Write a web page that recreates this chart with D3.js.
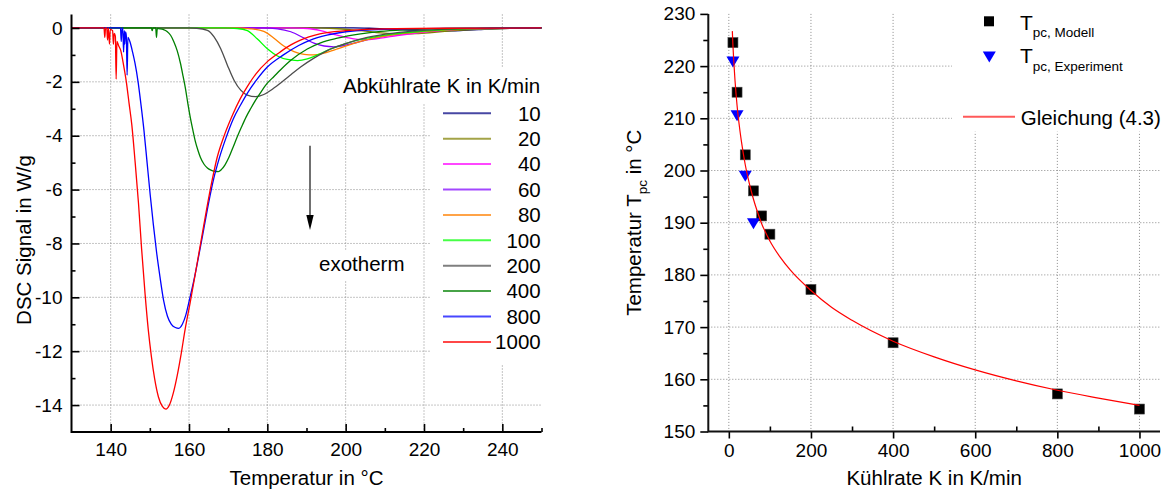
<!DOCTYPE html>
<html>
<head>
<meta charset="utf-8">
<script src="https://cdn.jsdelivr.net/npm/d3@7"></script>
<style>
  body { margin: 0; background: #fff; }
  svg text { font-family: "Liberation Sans", Arial, Helvetica, sans-serif; fill: #000; }
</style>
</head>
<body>
<svg id="chart" width="1167" height="493"></svg>
<script>
// ---------------- data: DSC cooling curves (temperature °C, signal W/g) ----------------
const rates = [10, 20, 40, 60, 80, 100, 200, 400, 800, 1000];
const rateColors = ["#000080", "#808000", "#ff00ff", "#8000ff", "#ff8000",
                    "#00ff00", "#4d4d4d", "#008000", "#0000ff", "#ff0000"];

const dsc10 = [[130,0],[202,0],[206,-0.01],[210,-0.03],[214,-0.06],[218,-0.09],[221,-0.11],[224,-0.12],
  [227,-0.11],[230,-0.09],[234,-0.06],[238,-0.03],[243,-0.01],[250,0]];
const dsc20 = [[130,0],[193,0],[197,-0.02],[201,-0.06],[205,-0.12],[209,-0.18],[212,-0.21],[215,-0.22],
  [218,-0.21],[222,-0.17],[226,-0.12],[231,-0.07],[236,-0.035],[242,-0.012],[250,0]];
const dsc40 = [[130,0],[186,0],[190.2,-0.02],[193.6,-0.1],[197,-0.24],[200.4,-0.36],[203,-0.42],[205.5,-0.43],
  [208.9,-0.38],[213.2,-0.28],[219.1,-0.17],[225,-0.09],[231,-0.045],[238,-0.015],[245,-0.003],[250,0]];
const dsc60 = [[130,0],[179,0],[182.6,-0.03],[186,-0.14],[189.4,-0.38],[191.9,-0.56],[194.5,-0.67],[197,-0.7],
  [199.6,-0.65],[203,-0.53],[207.2,-0.38],[213.2,-0.23],[219.1,-0.13],[226,-0.06],[233,-0.025],[241,-0.008],[250,0]];
const dsc80 = [[130,0],[172,0],[175.7,-0.03],[179.1,-0.13],[181.7,-0.38],[184.3,-0.68],[186.8,-0.88],[189.4,-0.98],
  [191.9,-1.0],[194.5,-0.93],[197.9,-0.78],[202.1,-0.57],[207.2,-0.38],[213.2,-0.23],[219.1,-0.14],[226,-0.07],
  [233,-0.03],[241,-0.01],[250,0]];
const dsc100 = [[130,0],[169,0],[172.3,-0.02],[174.9,-0.1],[177.4,-0.4],[180,-0.77],[182.6,-1.04],[185.1,-1.17],
  [187.7,-1.21],[190.2,-1.15],[192.8,-1.0],[196.2,-0.78],[200.4,-0.56],[205.5,-0.38],[212.3,-0.22],[219.1,-0.13],
  [226,-0.065],[233,-0.028],[241,-0.009],[250,0]];
const dsc200 = [[130,0],[160,0],[162,-0.01],[164.7,-0.09],[166.4,-0.33],[168.1,-0.77],[169.8,-1.38],[171.5,-1.94],
  [173.2,-2.31],[174.9,-2.49],[177,-2.55],[179.1,-2.47],[180.9,-2.31],[183.4,-2.04],[186,-1.74],[188.5,-1.45],
  [191.9,-1.12],[195.3,-0.84],[200.4,-0.56],[205.5,-0.35],[212.3,-0.19],[219.1,-0.1],[227,-0.045],[236,-0.015],[250,0]];
const dsc400 = [[130,0],[150.4,0],[150.6,-0.1],[150.8,0],[151.5,0],[151.7,-0.35],[151.9,-0.02],[152.5,-0.03],
  [153.5,-0.06],[154.4,-0.13],[155.3,-0.27],[156.1,-0.5],[157.0,-0.85],[157.8,-1.3],[158.5,-1.8],[159.1,-2.25],
  [159.7,-2.8],[160.3,-3.3],[161.0,-3.8],[161.6,-4.2],[162.3,-4.55],[162.9,-4.8],[163.8,-5.05],[164.7,-5.2],
  [165.6,-5.28],[166.5,-5.32],[167.5,-5.33],[168.3,-5.25],[169.2,-5.08],[170.2,-4.8],[171.2,-4.45],[172.3,-4.05],
  [173.4,-3.68],[174.6,-3.3],[175.8,-2.98],[177,-2.68],[178.5,-2.35],[180,-2.05],[181.7,-1.8],[183.4,-1.55],
  [186,-1.2],[190.2,-0.78],[193.6,-0.55],[197.9,-0.38],[203.8,-0.22],[208.9,-0.13],[215,-0.07],[222,-0.03],
  [232,-0.01],[250,0]];
const dsc800 = [[130,0],[142.5,0],[142.7,-0.5],[142.9,0],[143.1,0],[143.3,-0.9],[143.5,-0.1],[143.6,-0.6],
  [143.8,-0.15],[144.0,-0.3],[144.2,-1.75],[144.4,-0.35],[145.0,-0.55],[145.6,-0.9],[146.2,-1.3],[147.0,-2.0],
  [147.7,-2.8],[148.5,-3.8],[149.3,-5.0],[150.1,-6.2],[150.9,-7.3],[151.7,-8.3],[152.6,-9.25],[153.5,-10.1],
  [154.5,-10.7],[155.5,-11.0],[156.5,-11.12],[157.4,-11.15],[158.3,-11.0],[159.2,-10.65],[160.1,-10.1],
  [161.2,-9.4],[162.3,-8.6],[163.6,-7.6],[165.0,-6.5],[166.3,-5.6],[167.7,-4.85],[169.4,-4.1],[171.3,-3.38],
  [173.2,-2.85],[175.0,-2.4],[177.4,-1.9],[180.0,-1.45],[184.1,-1.0],[188,-0.65],[191,-0.45],[195.2,-0.27],
  [200,-0.14],[210,-0.05],[225,-0.015],[250,0]];
const dsc1000 = [[130,0],[138.3,0],[138.5,-0.35],[138.7,0],[139.0,0],[139.2,-0.45],[139.4,0],[139.7,-0.6],
  [139.9,-0.05],[140.5,-0.1],[140.7,-0.6],[140.9,-0.2],[141.2,-0.3],[141.4,-1.9],[141.6,-0.5],[142.0,-0.65],
  [142.6,-0.85],[143.2,-1.3],[144.0,-2.0],[144.7,-2.8],[145.4,-3.6],[146.2,-4.9],[147.1,-6.5],[147.9,-8.2],
  [148.8,-9.9],[149.6,-11.2],[150.4,-12.2],[151.2,-13.0],[152.2,-13.7],[153.2,-14.05],[154.1,-14.15],
  [155.0,-14.0],[156.0,-13.55],[157.0,-12.9],[158.0,-12.1],[159.0,-11.2],[160.3,-10.2],[162.0,-8.8],
  [163.8,-7.3],[165.5,-5.95],[167.2,-4.8],[169.1,-3.95],[171.2,-3.2],[173.0,-2.65],[175.0,-2.15],[177.0,-1.72],
  [180.0,-1.25],[183.2,-0.9],[186,-0.63],[188.3,-0.46],[193.4,-0.22],[200,-0.1],[210,-0.035],[225,-0.01],[250,0]];
const dscCurves = [dsc10, dsc20, dsc40, dsc60, dsc80, dsc100, dsc200, dsc400, dsc800, dsc1000];

// ---------------- data: crystallisation peak temperature vs. cooling rate ----------------
const modelRates = [10, 20, 40, 60, 80, 100, 200, 400, 800, 1000];
const tpcModel = [224.5, 215.0, 203.0, 196.1, 191.3, 187.8, 177.2, 167.0, 157.2, 154.3];
const expRates = [10, 20, 40, 60];
const tpcExperiment = [220.8, 210.5, 198.9, 189.8];
const eqRates = [8.5, 10, 12, 15, 20, 25, 30, 40, 50, 60, 70, 80, 100, 125, 150, 200, 250, 300,
  400, 500, 600, 700, 800, 900, 1000];
const eqTemps = [226.7, 224.0, 221.0, 217.3, 212.5, 208.9, 205.9, 201.1, 197.5, 194.5, 192.0, 189.8,
  186.5, 183.4, 180.9, 177.0, 173.8, 171.3, 167.3, 164.3, 161.8, 159.7, 157.9, 156.4, 155.0];

// tick values
const tempTicks = [140, 160, 180, 200, 220, 240];
const tempMinor = [150, 170, 190, 210, 230, 250];
const dscTicks = [0, -2, -4, -6, -8, -10, -12, -14];
const dscMinor = [-1, -3, -5, -7, -9, -11, -13];
const rateTicks = [0, 200, 400, 600, 800, 1000];
const rateMinor = [100, 300, 500, 700, 900];
const tpcTicks = [150, 160, 170, 180, 190, 200, 210, 220, 230];
const tpcMinor = [155, 165, 175, 185, 195, 205, 215, 225];

const svg = d3.select("#chart");
const FS = 20.5;
const gridStyle = sel => sel.attr("stroke", "#8a8a8a").attr("stroke-width", 1)
  .attr("stroke-dasharray", "1,2").attr("fill", "none");
const fmt = d => String(d);

// ================= left panel: DSC signal =================
const xL = d3.scaleLinear().domain([130, 250]).range([71.5, 541.5]);
const yL = d3.scaleLinear().domain([-15, 0.5]).range([432, 14.5]);

const left = svg.append("g");
left.append("g").selectAll("line").data(tempTicks).join("line")
  .attr("x1", d => xL(d)).attr("x2", d => xL(d)).attr("y1", yL(0.5)).attr("y2", yL(-15)).call(gridStyle);
left.append("g").selectAll("line").data(dscTicks.filter(d => d !== 0)).join("line")
  .attr("x1", xL(130)).attr("x2", xL(250)).attr("y1", d => yL(d)).attr("y2", d => yL(d)).call(gridStyle);

// white panels behind legend and annotation
left.append("rect").attr("x", 333).attr("y", 67).attr("width", 212).attr("height", 36).attr("fill", "#fff");
left.append("rect").attr("x", 430).attr("y", 103).attr("width", 115).attr("height", 262).attr("fill", "#fff");
left.append("rect").attr("x", 315).attr("y", 250).attr("width", 92).attr("height", 30).attr("fill", "#fff");

const lineL = d3.line().x(d => xL(d[0])).y(d => yL(d[1])).curve(d3.curveMonotoneX);
left.append("g").selectAll("path").data(dscCurves).join("path")
  .attr("d", lineL).attr("fill", "none")
  .attr("stroke", (d, i) => rateColors[i]).attr("stroke-width", 1.3);

// axes
function styleAxis(g) {
  g.select(".domain").remove();
  g.selectAll(".tick line").attr("stroke", "#000").attr("stroke-width", 1.6);
  g.selectAll(".tick text").attr("font-size", 19).attr("fill", "#000")
    .attr("font-family", "Liberation Sans, Arial, sans-serif");
}
left.append("g").attr("transform", `translate(${xL(130)},0)`)
  .call(d3.axisLeft(yL).tickValues(dscMinor).tickSize(-4).tickFormat("")).call(styleAxis);
left.append("g").attr("transform", `translate(${xL(130)},0)`)
  .call(d3.axisLeft(yL).tickValues(dscTicks).tickSize(-8).tickPadding(9).tickFormat(fmt)).call(styleAxis);
left.append("g").attr("transform", `translate(0,${yL(-15)})`)
  .call(d3.axisBottom(xL).tickValues(tempMinor).tickSize(-4).tickFormat("")).call(styleAxis);
left.append("g").attr("transform", `translate(0,${yL(-15)})`)
  .call(d3.axisBottom(xL).tickValues(tempTicks).tickSize(-8).tickPadding(11).tickFormat(fmt)).call(styleAxis);
left.append("path")
  .attr("d", `M${xL(130)},${yL(0.5)}V${yL(-15)}H${xL(250)}`)
  .attr("fill", "none").attr("stroke", "#000").attr("stroke-width", 2);

left.append("text").attr("x", (xL(130) + xL(250)) / 2).attr("y", 485)
  .attr("text-anchor", "middle").attr("font-size", FS).text("Temperatur in °C");
left.append("text").attr("transform", "translate(31,240) rotate(-90)")
  .attr("text-anchor", "middle").attr("font-size", FS).text("DSC Signal in W/g");

// legend
left.append("text").attr("x", 343).attr("y", 92.5).attr("font-size", FS).text("Abkühlrate K in K/min");
const legL = left.append("g").selectAll("g").data(rates).join("g")
  .attr("transform", (d, i) => `translate(0,${113.3 + i * 25.4})`);
legL.append("line").attr("x1", 443).attr("x2", 491)
  .attr("stroke", (d, i) => rateColors[i]).attr("stroke-width", 2).attr("stroke-opacity", 0.72);
legL.append("text").attr("x", 540.7).attr("y", 7.3).attr("text-anchor", "end")
  .attr("font-size", FS).text(d => d);

// exotherm arrow
left.append("line").attr("x1", 310).attr("x2", 310).attr("y1", 145.7).attr("y2", 218)
  .attr("stroke", "#707070").attr("stroke-width", 2);
left.append("path").attr("d", "M306.3,215L313.7,215L310,230Z").attr("fill", "#000");
left.append("text").attr("x", 319).attr("y", 270.7).attr("font-size", FS).text("exotherm");

// ================= right panel: peak temperature =================
const xR = d3.scaleLinear().domain([-50, 1050]).range([708.3, 1160]);
const yR = d3.scaleLinear().domain([150, 230]).range([431.5, 13.9]);

const right = svg.append("g");
right.append("g").selectAll("line").data(rateTicks).join("line")
  .attr("x1", d => xR(d)).attr("x2", d => xR(d)).attr("y1", yR(230)).attr("y2", yR(150)).call(gridStyle);
right.append("g").selectAll("line").data(tpcTicks.filter(d => d > 150 && d < 230)).join("line")
  .attr("x1", xR(-50)).attr("x2", xR(1050)).attr("y1", d => yR(d)).attr("y2", d => yR(d)).call(gridStyle);
right.append("rect").attr("x", 952).attr("y", 0).attr("width", 215).attr("height", 131.7).attr("fill", "#fff");

right.append("g").attr("transform", `translate(${xR(-50)},0)`)
  .call(d3.axisLeft(yR).tickValues(tpcMinor).tickSize(5).tickFormat("")).call(styleAxis);
right.append("g").attr("transform", `translate(${xR(-50)},0)`)
  .call(d3.axisLeft(yR).tickValues(tpcTicks).tickSize(8).tickPadding(5).tickFormat(fmt)).call(styleAxis);
right.append("g").attr("transform", `translate(0,${yR(150)})`)
  .call(d3.axisBottom(xR).tickValues(rateMinor).tickSize(-5).tickFormat("")).call(styleAxis);
right.append("g").attr("transform", `translate(0,${yR(150)})`)
  .call(d3.axisBottom(xR).tickValues(rateTicks).tickSize(7).tickPadding(5).tickFormat(fmt)).call(styleAxis);
right.append("path")
  .attr("d", `M${xR(-50)},${yR(230)}V${yR(150)}H${xR(1050)}`)
  .attr("fill", "none").attr("stroke", "#111").attr("stroke-width", 2);

// model squares
right.append("g").selectAll("rect").data(modelRates).join("rect")
  .attr("x", d => xR(d) - 5).attr("y", (d, i) => yR(tpcModel[i]) - 5)
  .attr("width", 10).attr("height", 10).attr("fill", "#000").attr("stroke", "#444").attr("stroke-width", 0.6);
// experiment triangles
const tri = "M-6.5,-5.5L6.5,-5.5L0,5.5Z";
right.append("g").selectAll("path").data(expRates).join("path")
  .attr("transform", (d, i) => `translate(${xR(d)},${yR(tpcExperiment[i])})`)
  .attr("d", tri).attr("fill", "#0000ff");
// fitted equation
const eqPts = eqRates.map((k, i) => [k, eqTemps[i]]);
right.append("path").datum(eqPts)
  .attr("d", d3.line().x(d => xR(d[0])).y(d => yR(d[1])).curve(d3.curveMonotoneX))
  .attr("fill", "none").attr("stroke", "#ff0000").attr("stroke-width", 1.2);

right.append("text").attr("x", (xR(-50) + xR(1050)) / 2).attr("y", 485)
  .attr("text-anchor", "middle").attr("font-size", FS).text("Kühlrate K in K/min");
const yTitle = right.append("text").attr("transform", `translate(641,${(yR(150) + yR(230)) / 2}) rotate(-90)`)
  .attr("text-anchor", "middle").attr("font-size", FS);
yTitle.append("tspan").text("Temperatur T");
yTitle.append("tspan").attr("font-size", 13.5).attr("dy", 6).text("pc");
yTitle.append("tspan").attr("dy", -6).text(" in °C");

// legend
right.append("rect").attr("x", 984).attr("y", 16.3).attr("width", 10).attr("height", 10).attr("fill", "#000");
const l1 = right.append("text").attr("x", 1020).attr("y", 30).attr("font-size", 21);
l1.append("tspan").text("T");
l1.append("tspan").attr("font-size", 13.5).attr("dy", 6.7).text("pc, Modell");
right.append("path").attr("transform", "translate(989.3,57)").attr("d", tri).attr("fill", "#0000ff");
const l2 = right.append("text").attr("x", 1020).attr("y", 62.7).attr("font-size", 21);
l2.append("tspan").text("T");
l2.append("tspan").attr("font-size", 13.5).attr("dy", 8).text("pc, Experiment");
right.append("line").attr("x1", 963).attr("x2", 1015).attr("y1", 116.7).attr("y2", 116.7)
  .attr("stroke", "#ff0000").attr("stroke-width", 2).attr("stroke-opacity", 0.65);
right.append("text").attr("x", 1020.7).attr("y", 125).attr("font-size", FS).text("Gleichung (4.3)");
</script>
</body>
</html>
